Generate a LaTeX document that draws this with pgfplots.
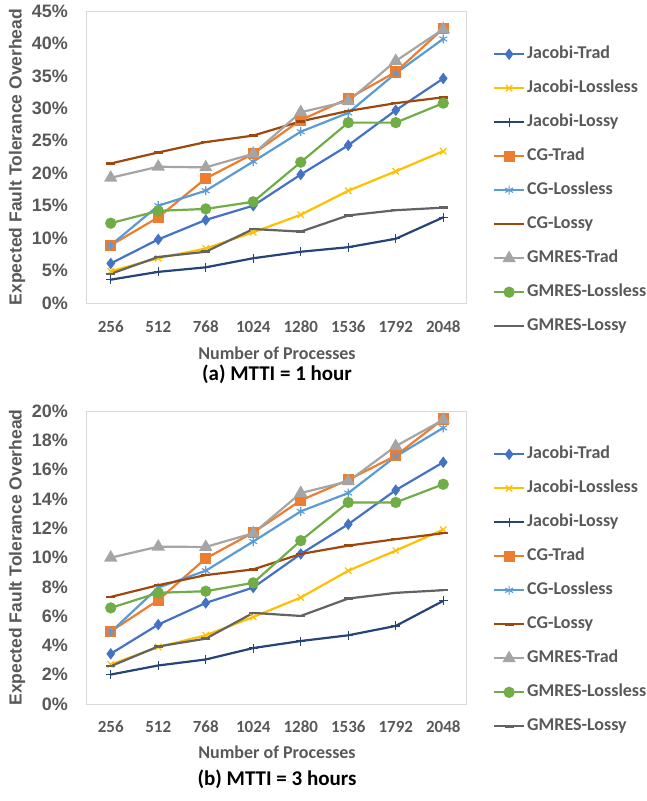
\documentclass[border=0pt]{standalone}
\usepackage{fontspec}
\setmainfont{Carlito}
\newfontfamily\arialf{Liberation Sans}
\usepackage{pgfplots}
\pgfplotsset{compat=1.18}
\definecolor{cJT}{HTML}{4472C4}
\definecolor{cJL}{HTML}{FFC000}
\definecolor{cJY}{HTML}{264478}
\definecolor{cCT}{HTML}{ED7D31}
\definecolor{cCL}{HTML}{5B9BD5}
\definecolor{cCY}{HTML}{9E480E}
\definecolor{cGT}{HTML}{A5A5A5}
\definecolor{cGL}{HTML}{70AD47}
\definecolor{cGY}{HTML}{636363}
\definecolor{txt}{HTML}{595959}
\definecolor{frame}{HTML}{D9D9D9}
\pgfplotsset{
  myax/.style={
    width=380pt, scale only axis,
    xmin=-0.5, xmax=7.5, ymin=0,
    xtick={0,...,7}, xticklabels={256,512,768,1024,1280,1536,1792,2048},
    axis line style={draw=frame, line width=1pt},
    major tick length=0pt,
    tick style={draw=none},
    xticklabel style={font=\fontsize{17}{19}\selectfont\bfseries, text=txt, anchor=center, inner sep=0pt},
    yticklabel style={font=\fontsize{18}{20}\selectfont\arialf\bfseries, text=txt, anchor=east, inner sep=0pt, xshift=-19pt},
    ylabel={Expected Fault Tolerance Overhead},
    ylabel style={font=\fontsize{17.5}{19}\selectfont\arialf\bfseries, text=txt, at={(axis description cs:-0.184,0.5)}, anchor=center},
    xlabel={Number of Processes},
    xlabel style={font=\fontsize{18}{20}\selectfont\bfseries, text=txt, anchor=center},
    title style={font=\fontsize{21}{23}\selectfont\bfseries, text=black, anchor=center},
    legend cell align=left,
    legend style={draw=none, fill=none, inner sep=0pt, row sep=18pt,
      font=\fontsize{18}{20}\selectfont\bfseries, text=txt,
      nodes={text height=12pt, text depth=4pt}},
    legend image code/.code={\draw[mark repeat=2,mark phase=2,##1] plot coordinates {(0pt,0pt)(15pt,0pt)(30pt,0pt)};},
    every axis plot/.append style={line width=2.2pt},
  },
  sJT/.style={color=cJT, mark=diamond*, mark size=4pt, mark options={solid}},
  sJL/.style={color=cJL, mark=x, mark size=4.5pt, mark options={line width=1.2pt}},
  sJY/.style={color=cJY, mark=+, mark size=4.5pt, mark options={line width=1.2pt}},
  sCT/.style={color=cCT, mark=square*, mark size=4.5pt},
  sCL/.style={color=cCL, mark=asterisk, mark size=4.5pt, mark options={line width=1.1pt}},
  sCY/.style={color=cCY, mark=-, mark size=4.5pt, mark options={line width=2.5pt}},
  sGT/.style={color=cGT, mark=triangle*, mark size=5.5pt},
  sGL/.style={color=cGL, mark=*, mark size=4.5pt},
  sGY/.style={color=cGY, mark=-, mark size=4.5pt, mark options={line width=2.5pt}},
}
\begin{document}
\begin{tikzpicture}[x=1pt,y=1pt]
\useasboundingbox (0,0) rectangle (647,-801);
\begin{axis}[myax, at={(87pt,-303pt)}, anchor=south west, height=292pt,
  ymax=45, ytick={0,5,...,45},
  yticklabels={0\%,5\%,10\%,15\%,20\%,25\%,30\%,35\%,40\%,45\%},
  xticklabel style={yshift=-24pt},
  xlabel style={at={(axis description cs:0.5,-0.171)}},
  title={(a) MTTI = 1 hour}, title style={at={(axis description cs:0.5,-0.264)}},
  legend style={at={(1.068,0.887)}, anchor=north west, row sep=14pt}]
\addplot[sJT] coordinates {(0,6.1)(1,9.8)(2,12.8)(3,15.0)(4,19.8)(5,24.3)(6,29.7)(7,34.6)};
\addlegendentry{Jacobi-Trad}
\addplot[sJL] coordinates {(0,4.9)(1,6.9)(2,8.4)(3,10.9)(4,13.6)(5,17.3)(6,20.3)(7,23.4)};
\addlegendentry{Jacobi-Lossless}
\addplot[sJY] coordinates {(0,3.6)(1,4.8)(2,5.5)(3,6.9)(4,7.9)(5,8.6)(6,9.9)(7,13.2)};
\addlegendentry{Jacobi-Lossy}
\addplot[sCT] coordinates {(0,8.9)(1,13.2)(2,19.2)(3,23.0)(4,28.2)(5,31.5)(6,35.6)(7,42.3)};
\addlegendentry{CG-Trad}
\addplot[sCL] coordinates {(0,8.9)(1,15.0)(2,17.3)(3,21.8)(4,26.4)(5,29.3)(6,35.4)(7,40.7)};
\addlegendentry{CG-Lossless}
\addplot[sCY] coordinates {(0,21.5)(1,23.2)(2,24.8)(3,25.8)(4,28.0)(5,29.6)(6,30.8)(7,31.7)};
\addlegendentry{CG-Lossy}
\addplot[sGT] coordinates {(0,19.3)(1,21.0)(2,20.9)(3,23.0)(4,29.4)(5,31.1)(6,37.3)(7,42.2)};
\addlegendentry{GMRES-Trad}
\addplot[sGL] coordinates {(0,12.3)(1,14.2)(2,14.5)(3,15.6)(4,21.7)(5,27.8)(6,27.8)(7,30.8)};
\addlegendentry{GMRES-Lossless}
\addplot[sGY] coordinates {(0,4.5)(1,7.1)(2,7.9)(3,11.4)(4,11.0)(5,13.5)(6,14.3)(7,14.7)};
\addlegendentry{GMRES-Lossy}
\end{axis}
\begin{axis}[myax, at={(87pt,-704pt)}, anchor=south west, height=293pt,
  ymax=20, ytick={0,2,...,20},
  yticklabels={0\%,2\%,4\%,6\%,8\%,10\%,12\%,14\%,16\%,18\%,20\%},
  xticklabel style={yshift=-23pt},
  xlabel style={at={(axis description cs:0.5,-0.164)}},
  title={(b) MTTI = 3 hours}, title style={at={(axis description cs:0.5,-0.276)}},
  legend style={at={(1.068,0.887)}, anchor=north west, row sep=14pt}]
\addplot[sJT] coordinates {(0,3.43)(1,5.42)(2,6.9)(3,7.95)(4,10.24)(5,12.27)(6,14.6)(7,16.5)};
\addlegendentry{Jacobi-Trad}
\addplot[sJL] coordinates {(0,2.7)(1,3.89)(2,4.69)(3,5.94)(4,7.27)(5,9.1)(6,10.47)(7,11.9)};
\addlegendentry{Jacobi-Lossless}
\addplot[sJY] coordinates {(0,2.01)(1,2.63)(2,3.04)(3,3.82)(4,4.3)(5,4.69)(6,5.33)(7,7.04)};
\addlegendentry{Jacobi-Lossy}
\addplot[sCT] coordinates {(0,4.96)(1,7.09)(2,9.94)(3,11.7)(4,13.9)(5,15.3)(6,16.95)(7,19.45)};
\addlegendentry{CG-Trad}
\addplot[sCL] coordinates {(0,4.91)(1,7.95)(2,9.1)(3,11.09)(4,13.15)(5,14.4)(6,16.9)(7,18.85)};
\addlegendentry{CG-Lossless}
\addplot[sCY] coordinates {(0,7.31)(1,8.11)(2,8.8)(3,9.19)(4,10.24)(5,10.81)(6,11.25)(7,11.66)};
\addlegendentry{CG-Lossy}
\addplot[sGT] coordinates {(0,9.99)(1,10.74)(2,10.72)(3,11.66)(4,14.4)(5,15.2)(6,17.6)(7,19.4)};
\addlegendentry{GMRES-Trad}
\addplot[sGL] coordinates {(0,6.56)(1,7.59)(2,7.7)(3,8.27)(4,11.15)(5,13.76)(6,13.76)(7,15.0)};
\addlegendentry{GMRES-Lossless}
\addplot[sGY] coordinates {(0,2.58)(1,3.93)(2,4.46)(3,6.22)(4,6.01)(5,7.2)(6,7.59)(7,7.77)};
\addlegendentry{GMRES-Lossy}
\end{axis}
\end{tikzpicture}
\end{document}
